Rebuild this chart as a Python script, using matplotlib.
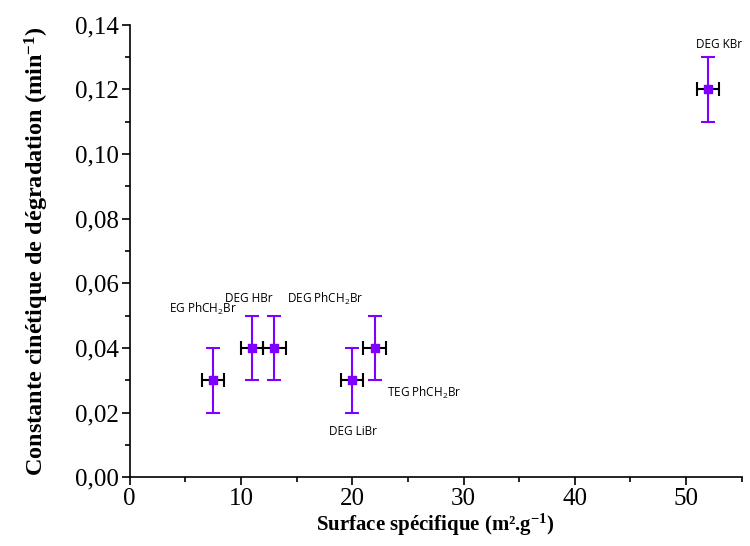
import matplotlib
matplotlib.use("Agg")
import matplotlib.pyplot as plt
from matplotlib.ticker import FuncFormatter, MultipleLocator

plt.rcParams["mathtext.fontset"] = "custom"
plt.rcParams["mathtext.rm"] = "Liberation Serif"
plt.rcParams["mathtext.bf"] = "Liberation Serif:bold"

# Data
labels = ["EG PhCH$\\mathregular{_2}$Br", "DEG HBr", "DEG PhCH$\\mathregular{_2}$Br",
          "DEG LiBr", "TEG PhCH$\\mathregular{_2}$Br", "DEG KBr"]
surface = [7.5, 11, 13, 20, 22, 52]
surface_err = [1.0, 1.0, 1.0, 1.0, 1.0, 1.0]
k_deg = [0.03, 0.04, 0.04, 0.03, 0.04, 0.12]
k_err = [0.01, 0.01, 0.01, 0.01, 0.01, 0.01]
# label offsets (pixels) relative to each point
label_offsets = [(-10, 71), (-3, 49), (51, 49), (1, -51), (50, -45), (11, 45)]

purple = "#8000ff"

fig = plt.figure(figsize=(7.5, 5.46), dpi=100)
ax = fig.add_axes([0.173, 0.126, 0.816, 0.829])

ax.errorbar(surface, k_deg, yerr=k_err, fmt="none", ecolor=purple,
            elinewidth=1.5, capsize=5, capthick=1.5, zorder=2)
ax.errorbar(surface, k_deg, xerr=surface_err, fmt="none", ecolor="black",
            elinewidth=1.5, capsize=5, capthick=1.5, zorder=3)
ax.scatter(surface, k_deg, marker="s", s=30, color=purple, zorder=4)

for lab, x, y, off in zip(labels, surface, k_deg, label_offsets):
    ax.annotate(lab, (x, y), xytext=off, textcoords="offset pixels",
                ha="center", va="center", fontsize=8.5, family="Open Sans")

ax.set_xlim(0, 55)
ax.set_ylim(0, 0.14)
ax.xaxis.set_major_locator(MultipleLocator(10))
ax.xaxis.set_minor_locator(MultipleLocator(5))
ax.yaxis.set_major_locator(MultipleLocator(0.02))
ax.yaxis.set_minor_locator(MultipleLocator(0.01))
ax.yaxis.set_major_formatter(FuncFormatter(lambda v, p: f"{v:.2f}".replace(".", ",")))

for s in ["top", "right"]:
    ax.spines[s].set_visible(False)
for s in ["left", "bottom"]:
    ax.spines[s].set_linewidth(1.2)

ax.tick_params(which="major", direction="out", length=6, width=1.2, pad=2)
ax.tick_params(which="minor", direction="out", length=3.5, width=1.2)
for t in ax.get_xticklabels() + ax.get_yticklabels():
    t.set_family("Liberation Serif")
    t.set_fontsize(18)

ax.set_xlabel("Surface spécifique (m².g$\\mathbf{^{-1}}$)", family="Liberation Serif",
              fontweight="bold", fontsize=15, labelpad=1)
ax.set_ylabel("Constante cinétique de dégradation (min$\\mathbf{^{-1}}$)",
              family="Liberation Serif", fontweight="bold", fontsize=17.5, labelpad=17)

fig.savefig("out.png", dpi=100)
